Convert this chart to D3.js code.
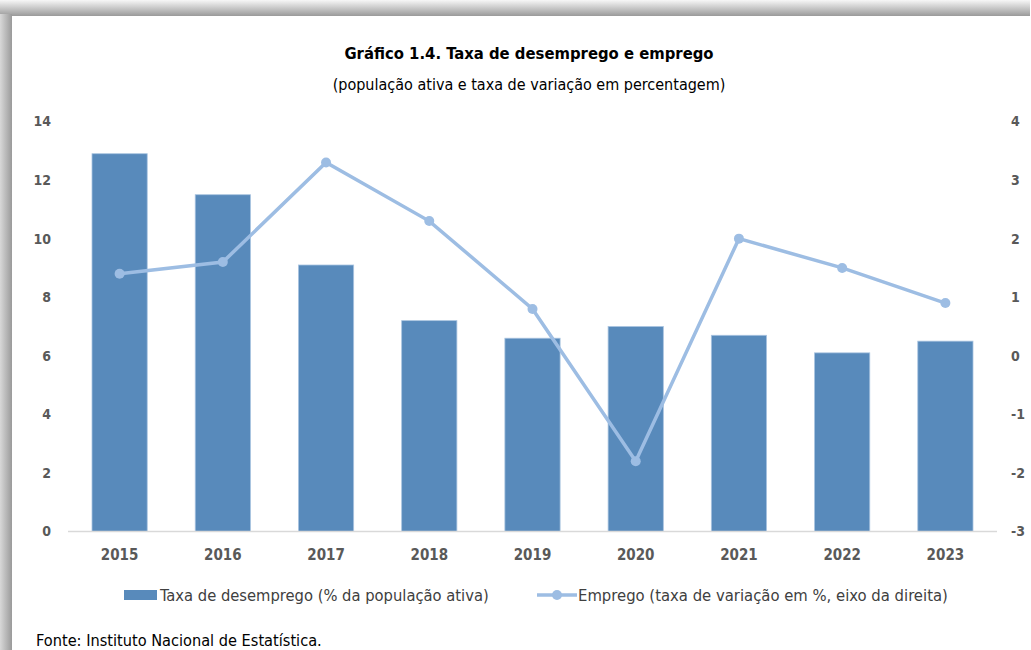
<!DOCTYPE html>
<html>
<head>
<meta charset="utf-8">
<script src="https://cdn.jsdelivr.net/npm/d3@7"></script>
<style>
  body { margin: 0; background: #fff; }
  text { font-family: "Liberation Sans Narrow", "DejaVu Sans Condensed", sans-serif; }
</style>
</head>
<body>
<script>
// chart data
const years = ['2015', '2016', '2017', '2018', '2019', '2020', '2021', '2022', '2023']
const unemployment = [12.9, 11.5, 9.1, 7.2, 6.6, 7.0, 6.7, 6.1, 6.5]
const employment = [1.4, 1.6, 3.3, 2.3, 0.8, -1.8, 2.0, 1.5, 0.9]
const leftTicks = [0, 2, 4, 6, 8, 10, 12, 14]
const rightTicks = [-3, -2, -1, 0, 1, 2, 3, 4]
const title = 'Gráfico 1.4. Taxa de desemprego e emprego'
const subtitle = '(população ativa e taxa de variação em percentagem)'
const legendLabels = ['Taxa de desemprego (% da população ativa)', 'Emprego (taxa de variação em %, eixo da direita)']
const source = 'Fonte: Instituto Nacional de Estatística.'

const m = { width: 1031, height: 650, left: 68, right: 997, top: 121.5, bottom: 531.5 }
const barColor = '#588abb'
const lineColor = '#9dbde3'

const svg = d3.select('body').append('svg')
    .attr('width', m.width)
    .attr('height', m.height)

//shadow frame around the panel
const defs = svg.append('defs')
const gTop = defs.append('linearGradient').attr('id', 'shTop').attr('x1', 0).attr('y1', 0).attr('x2', 0).attr('y2', 1)
gTop.append('stop').attr('offset', '0%').attr('stop-color', '#f7f7f7')
gTop.append('stop').attr('offset', '100%').attr('stop-color', '#9a9a9a')
const gLeft = defs.append('linearGradient').attr('id', 'shLeft').attr('x1', 0).attr('y1', 0).attr('x2', 1).attr('y2', 0)
gLeft.append('stop').attr('offset', '0%').attr('stop-color', '#d8d8d8')
gLeft.append('stop').attr('offset', '100%').attr('stop-color', '#9a9a9a')

svg.append('rect').attr('x', 0).attr('y', 0).attr('width', 1030).attr('height', 16).attr('fill', 'url(#shTop)')
svg.append('rect').attr('x', 0).attr('y', 14).attr('width', 12).attr('height', m.height - 14).attr('fill', 'url(#shLeft)')

//titles
svg.append('text')
    .attr('x', 529).attr('y', 59)
    .attr('text-anchor', 'middle')
    .attr('font-size', '16.5px')
    .attr('font-weight', 'bold')
    .attr('fill', '#000')
    .text(title)

svg.append('text')
    .attr('x', 529).attr('y', 90)
    .attr('text-anchor', 'middle')
    .attr('font-size', '16px')
    .attr('fill', '#000')
    .text(subtitle)

//scales
const x = d3.scaleBand()
    .domain(years)
    .range([m.left, m.right])
    .paddingInner(0.465)
    .paddingOuter(0.2325)

const yL = d3.scaleLinear().domain([0, 14]).range([m.bottom, m.top])
const yR = d3.scaleLinear().domain([-3, 4]).range([m.bottom, m.top])

//bars
svg.append('g').selectAll('rect')
    .data(unemployment)
    .enter()
    .append('rect')
        .attr('x', (d, i) => x(years[i]))
        .attr('y', d => yL(d))
        .attr('width', x.bandwidth())
        .attr('height', d => yL(0) - yL(d))
        .attr('fill', barColor)
        .attr('stroke', '#a9c4e0')
        .attr('stroke-width', 0.8)

//baseline
svg.append('line')
    .attr('x1', m.left).attr('x2', m.right)
    .attr('y1', m.bottom).attr('y2', m.bottom)
    .attr('stroke', '#d9d9d9')
    .attr('stroke-width', 1.5)

//axes
const styleAxis = function(g) {
    g.select('.domain').remove()
    g.selectAll('text')
        .attr('font-size', '14px')
        .attr('font-weight', 'bold')
        .attr('fill', '#595959')
}

svg.append('g')
    .attr('transform', `translate(${m.left},0)`)
    .call(d3.axisLeft(yL).tickValues(leftTicks).tickSize(0).tickPadding(17).tickFormat(d => String(d)))
    .call(styleAxis)

svg.append('g')
    .attr('transform', `translate(${m.right},0)`)
    .call(d3.axisRight(yR).tickValues(rightTicks).tickSize(0).tickPadding(14).tickFormat(d => String(d)))
    .call(styleAxis)

svg.append('g')
    .attr('transform', `translate(0,${m.bottom})`)
    .call(d3.axisBottom(x).tickSize(0).tickPadding(18))
    .call(styleAxis)
    .selectAll('text').attr('font-size', '15px')

//line series
const line = d3.line()
    .x((d, i) => x(years[i]) + x.bandwidth() / 2)
    .y(d => yR(d))

svg.append('path')
    .datum(employment)
    .attr('d', line)
    .attr('fill', 'none')
    .attr('stroke', lineColor)
    .attr('stroke-width', 3.5)

svg.append('g').selectAll('circle')
    .data(employment)
    .enter()
    .append('circle')
        .attr('cx', (d, i) => x(years[i]) + x.bandwidth() / 2)
        .attr('cy', d => yR(d))
        .attr('r', 5)
        .attr('fill', lineColor)

//legend
const leg = svg.append('g')
leg.append('rect')
    .attr('x', 124).attr('y', 590)
    .attr('width', 33).attr('height', 10)
    .attr('fill', barColor)
leg.append('text')
    .attr('x', 160).attr('y', 601)
    .attr('font-size', '16.4px')
    .attr('fill', '#404040')
    .text(legendLabels[0])

leg.append('line')
    .attr('x1', 537).attr('x2', 577)
    .attr('y1', 595).attr('y2', 595)
    .attr('stroke', lineColor)
    .attr('stroke-width', 3.5)
leg.append('circle')
    .attr('cx', 557).attr('cy', 595)
    .attr('r', 5)
    .attr('fill', lineColor)
leg.append('text')
    .attr('x', 578).attr('y', 601)
    .attr('font-size', '16.5px')
    .attr('fill', '#404040')
    .text(legendLabels[1])

//source
svg.append('text')
    .attr('x', 36).attr('y', 646)
    .attr('font-size', '16.2px')
    .attr('fill', '#000')
    .text(source)
</script>
</body>
</html>
